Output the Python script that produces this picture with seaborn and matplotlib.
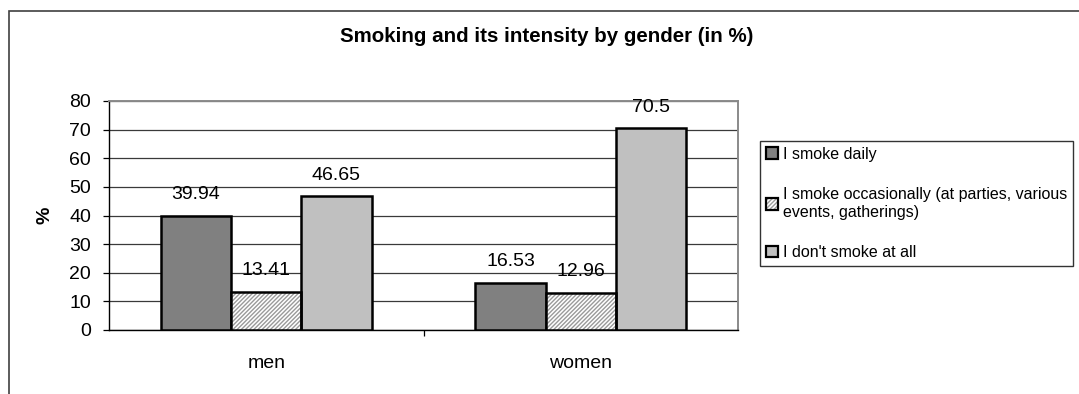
import matplotlib
matplotlib.use("Agg")
import matplotlib.pyplot as plt
from matplotlib.patches import Rectangle
from matplotlib.legend_handler import HandlerTuple
import seaborn as sns
import pandas as pd

genders = ["men", "women"]
answers = [
    "I smoke daily",
    "I smoke occasionally (at parties, various\nevents, gatherings)",
    "I don't smoke at all",
]
daily = [39.94, 16.53]
occasionally = [13.41, 12.96]
never = [46.65, 70.5]
y_ticks = [0, 10, 20, 30, 40, 50, 60, 70, 80]

sns.set_theme(style="white")
plt.rcParams["font.family"] = ["Liberation Sans", "DejaVu Sans"]
for key in ["text.color", "axes.labelcolor", "xtick.color", "ytick.color"]:
    plt.rcParams[key] = "black"

rows = []
for ans, vals in zip(answers, [daily, occasionally, never]):
    for g, v in zip(genders, vals):
        rows.append({"gender": g, "answer": ans, "value": v})
df = pd.DataFrame(rows)

colors = ["#808080", "#ffffff", "#c0c0c0"]
hatch_grey = "#9a9a9a"
fine_hatch = "////////"

fig = plt.figure(figsize=(10.79, 3.94), dpi=100)
ax = fig.add_axes([109 / 1079, 1 - 330 / 394, (738 - 109) / 1079, (330 - 101) / 394])

sns.barplot(data=df, x="gender", y="value", hue="answer", order=genders,
            hue_order=answers, palette=colors, width=0.67, gap=0,
            edgecolor="black", linewidth=1.8, saturation=1, legend=False,
            ax=ax, zorder=3)

# occasional smokers get a fine grey diagonal hatch, outline redrawn on top
occ_bars = ax.containers[1]
for bar in occ_bars:
    bar.set_hatch(fine_hatch)
    bar.set_edgecolor(hatch_grey)
    bar.set_linewidth(0)
    ax.add_patch(Rectangle(bar.get_xy(), bar.get_width(), bar.get_height(),
                           fill=False, edgecolor="black", linewidth=1.8,
                           zorder=4))

for cont, vals in zip(ax.containers, [daily, occasionally, never]):
    ax.bar_label(cont, labels=[f"{v:g}" for v in vals], padding=9,
                 fontsize=14, color="black")

ax.set_ylim(0, 80)
ax.set_yticks(y_ticks)
ax.set_xlim(-0.5, 1.5)
ax.yaxis.grid(True, color="#3a3a3a", linewidth=0.9, zorder=0)
ax.set_axisbelow(True)
ax.tick_params(axis="y", which="both", left=True, length=4.5, width=0.9,
               labelsize=14, colors="black", pad=8.5)
ax.set_xticks([0.5], minor=True)
ax.tick_params(axis="x", which="minor", bottom=True, length=4.5, width=0.9)
ax.tick_params(axis="x", which="major", bottom=False, labelsize=14, pad=12)
ax.set_xlabel("")
ax.set_ylabel("%", fontsize=14, fontweight="bold", labelpad=11)

for side in ["left", "bottom"]:
    ax.spines[side].set_color("black")
    ax.spines[side].set_linewidth(1.0)
for side in ["top", "right"]:
    ax.spines[side].set_visible(True)
    ax.spines[side].set_color("#8a8a8a")
    ax.spines[side].set_linewidth(1.4)

fig.text(547 / 1079, 1 - 37 / 394, "Smoking and its intensity by gender (in %)",
         ha="center", va="center", fontsize=14.8, fontweight="bold",
         color="black")

handles = [
    Rectangle((0, 0), 1, 1, facecolor=colors[0], edgecolor="black", linewidth=1.6),
    (Rectangle((0, 0), 1, 1, facecolor="white", edgecolor=hatch_grey,
               linewidth=0, hatch=fine_hatch),
     Rectangle((0, 0), 1, 1, fill=False, edgecolor="black", linewidth=1.6)),
    Rectangle((0, 0), 1, 1, facecolor=colors[2], edgecolor="black", linewidth=1.6),
]
leg = fig.legend(handles, answers, loc="upper left",
                 bbox_to_anchor=(760 / 1079, 1 - 141 / 394),
                 handler_map={tuple: HandlerTuple(ndivide=1, pad=0)},
                 fontsize=11.5, frameon=True, fancybox=False, handlelength=0.75,
                 handleheight=0.75, handletextpad=0.35, labelspacing=1.6,
                 borderpad=0.35, borderaxespad=0)
leg.get_frame().set_edgecolor("black")
leg.get_frame().set_linewidth(1.0)

# outer chart border
fig.add_artist(Rectangle((9 / 1079, -0.1), 1.2, 1.1 - 11 / 394,
                         transform=fig.transFigure, fill=False,
                         edgecolor="#404040", linewidth=1.2))

fig.savefig("out.png", dpi=100)
